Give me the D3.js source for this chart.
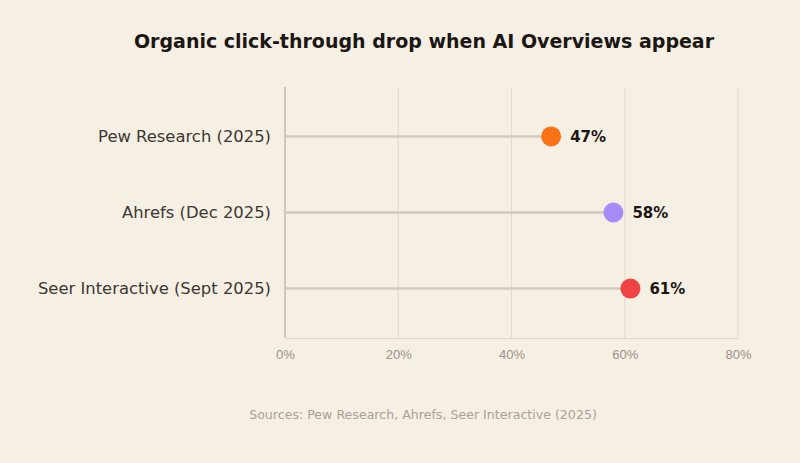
<!DOCTYPE html>
<html>
<head>
<meta charset="utf-8">
<script src="https://cdn.jsdelivr.net/npm/d3@7"></script>
<style>
  body { margin: 0; background: #f5efe4; }
  svg { display: block; font-family: "DejaVu Sans", sans-serif; }
</style>
</head>
<body>
<div id="chart"></div>
<script>
// lollipop chart data
var sources = ["Pew Research (2025)", "Ahrefs (Dec 2025)", "Seer Interactive (Sept 2025)"];
var drops = [47, 58, 61];
var dotColors = ["#f97316", "#a78bfa", "#ef4444"];
var xTicks = [0, 20, 40, 60, 80];

var width = 800, height = 463;
var margin = {top: 87, right: 62, bottom: 125, left: 285};

var svg = d3.select("#chart").append("svg")
    .attr("width", width)
    .attr("height", height);

svg.append("rect")
    .attr("width", width)
    .attr("height", height)
    .attr("fill", "#f5efe4");

var x = d3.scaleLinear()
    .domain([0, 80])
    .range([margin.left, width - margin.right]);

var y = d3.scalePoint()
    .domain(sources)
    .range([margin.top, height - margin.bottom])
    .padding(0.65);

// grid lines
svg.append("g")
    .selectAll("line")
    .data(xTicks.slice(1))
    .enter().append("line")
    .attr("x1", function(d) { return x(d); })
    .attr("x2", function(d) { return x(d); })
    .attr("y1", margin.top)
    .attr("y2", height - margin.bottom)
    .attr("stroke", "#e3dacd")
    .attr("stroke-width", 1);

// x axis
var xAxis = svg.append("g")
    .attr("transform", "translate(0," + (height - margin.bottom) + ")")
    .call(d3.axisBottom(x).tickValues(xTicks).tickSize(0).tickPadding(12)
        .tickFormat(function(d) { return d + "%"; }));
xAxis.select(".domain").attr("stroke", "#e0d7ca");
xAxis.selectAll("text")
    .attr("fill", "#9a9188")
    .style("font-size", "13px");

// y axis line
svg.append("line")
    .attr("x1", margin.left)
    .attr("x2", margin.left)
    .attr("y1", margin.top)
    .attr("y2", height - margin.bottom)
    .attr("stroke", "#c2b9ad")
    .attr("stroke-width", 1.5);

// y labels
svg.append("g")
    .selectAll("text")
    .data(sources)
    .enter().append("text")
    .attr("x", margin.left - 14)
    .attr("y", function(d) { return y(d); })
    .attr("dy", "0.35em")
    .attr("text-anchor", "end")
    .attr("fill", "#3d3833")
    .style("font-size", "16.4px")
    .text(function(d) { return d; });

// stems
svg.append("g")
    .selectAll("line")
    .data(sources)
    .enter().append("line")
    .attr("x1", x(0))
    .attr("x2", function(d, i) { return x(drops[i]); })
    .attr("y1", function(d) { return y(d); })
    .attr("y2", function(d) { return y(d); })
    .attr("stroke", "#d3cabd")
    .attr("stroke-width", 2.5);

// dots
svg.append("g")
    .selectAll("circle")
    .data(sources)
    .enter().append("circle")
    .attr("cx", function(d, i) { return x(drops[i]); })
    .attr("cy", function(d) { return y(d); })
    .attr("r", 10)
    .attr("fill", function(d, i) { return dotColors[i]; });

// value labels
svg.append("g")
    .selectAll("text")
    .data(sources)
    .enter().append("text")
    .attr("x", function(d, i) { return x(drops[i]) + 19; })
    .attr("y", function(d) { return y(d); })
    .attr("dy", "0.35em")
    .attr("fill", "#1c1714")
    .style("font-size", "15px")
    .style("font-weight", "bold")
    .text(function(d, i) { return drops[i] + "%"; });

// title
svg.append("text")
    .attr("x", 424)
    .attr("y", 48)
    .attr("text-anchor", "middle")
    .attr("fill", "#1c1714")
    .style("font-size", "19px")
    .style("font-weight", "bold")
    .text("Organic click-through drop when AI Overviews appear");

// sources note
svg.append("text")
    .attr("x", 423)
    .attr("y", 419)
    .attr("text-anchor", "middle")
    .attr("fill", "#aaa197")
    .style("font-size", "12.6px")
    .text("Sources: Pew Research, Ahrefs, Seer Interactive (2025)");
</script>
</body>
</html>
